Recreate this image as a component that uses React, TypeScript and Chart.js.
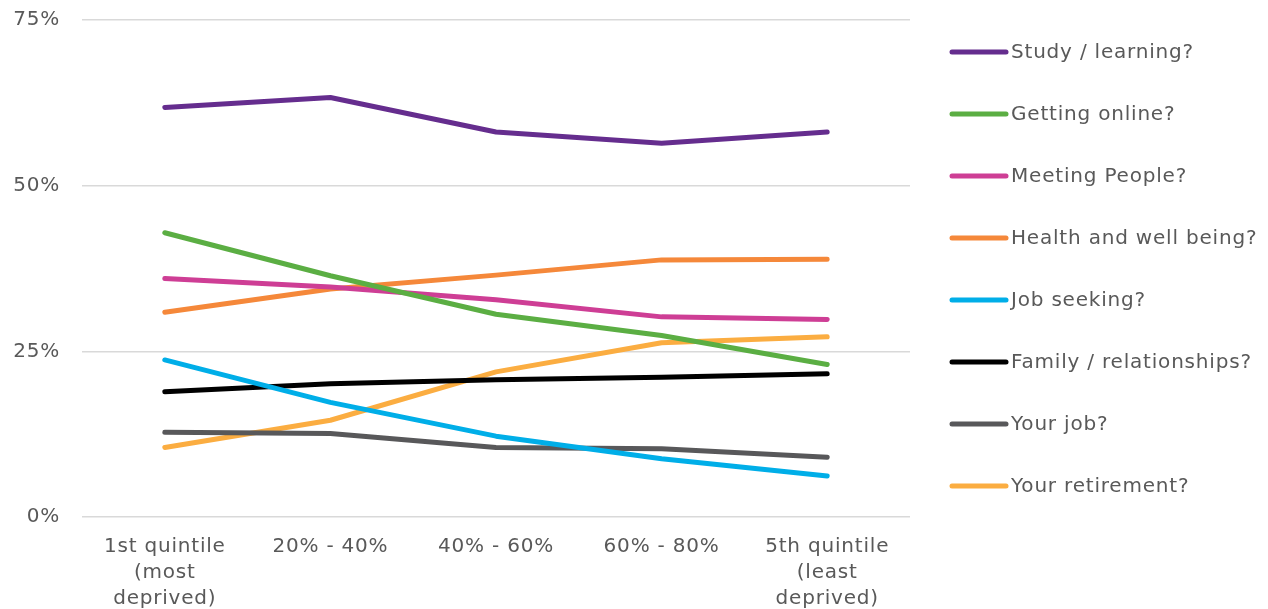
import React, { useEffect, useRef } from "react";
import { Chart, registerables } from "chart.js";

Chart.register(...registerables);

const categories: (string | string[])[] = [
  ["1st quintile", "(most", "deprived)"],
  "20% - 40%",
  "40% - 60%",
  "60% - 80%",
  ["5th quintile", "(least", "deprived)"],
];

const yTicks = [0, 25, 50, 75];

const studyLearning = [61.8, 63.3, 58.1, 56.4, 58.1];
const gettingOnline = [42.9, 36.4, 30.6, 27.4, 23.0];
const meetingPeople = [36.0, 34.7, 32.8, 30.2, 29.8];
const healthWellBeing = [30.9, 34.4, 36.5, 38.8, 38.9];
const jobSeeking = [23.7, 17.3, 12.2, 8.8, 6.2];
const familyRelationships = [18.9, 20.1, 20.7, 21.1, 21.6];
const yourJob = [12.8, 12.6, 10.5, 10.3, 9.0];
const yourRetirement = [10.5, 14.6, 21.9, 26.3, 27.2];

const seriesLabels = [
  "Study / learning?",
  "Getting online?",
  "Meeting People?",
  "Health and well being?",
  "Job seeking?",
  "Family / relationships?",
  "Your job?",
  "Your retirement?",
];
const seriesValues = [
  studyLearning,
  gettingOnline,
  meetingPeople,
  healthWellBeing,
  jobSeeking,
  familyRelationships,
  yourJob,
  yourRetirement,
];
const seriesColors = [
  "#652D8E",
  "#5BAE43",
  "#CE3E95",
  "#F5883A",
  "#00AEE8",
  "#000000",
  "#58585A",
  "#FBAD41",
];

const TEXT_COLOR = "#595959";
const FONT_FAMILY = "'DejaVu Sans', Verdana, sans-serif";
const FONT_SIZE = 20;
const LETTER_SPACING = "0.8px";

// Slightly widened lettering for every label on the canvas.
const wideText = {
  id: "wideText",
  beforeDraw(chart: Chart) {
    (chart.ctx as any).letterSpacing = LETTER_SPACING;
  },
};

// Legend drawn to the right of the plot: a short thick line sample, then the label.
const sideLegend = {
  id: "sideLegend",
  afterDraw(chart: Chart) {
    const ctx = chart.ctx;
    const startX = 952;
    const lineLen = 54;
    const firstY = 52;
    const step = 62;
    ctx.save();
    (ctx as any).letterSpacing = LETTER_SPACING;
    ctx.font = `${FONT_SIZE}px ${FONT_FAMILY}`;
    ctx.textBaseline = "middle";
    ctx.textAlign = "left";
    chart.data.datasets.forEach((ds: any, i: number) => {
      const y = firstY + i * step;
      ctx.strokeStyle = ds.borderColor;
      ctx.lineWidth = 5;
      ctx.lineCap = "round";
      ctx.beginPath();
      ctx.moveTo(startX, y);
      ctx.lineTo(startX + lineLen, y);
      ctx.stroke();
      ctx.fillStyle = TEXT_COLOR;
      ctx.fillText(ds.label, startX + lineLen + 5, y + 1);
    });
    ctx.restore();
  },
};

export default function App() {
  const canvasRef = useRef<HTMLCanvasElement | null>(null);

  useEffect(() => {
    if (!canvasRef.current) return;
    const chart = new Chart(canvasRef.current, {
      type: "line",
      data: {
        labels: categories,
        datasets: seriesLabels.map((label, i) => ({
          label,
          data: seriesValues[i],
          borderColor: seriesColors[i],
          backgroundColor: seriesColors[i],
          borderWidth: 5,
          borderCapStyle: "round" as const,
          borderJoinStyle: "round" as const,
          pointRadius: 0,
          pointHoverRadius: 0,
          tension: 0,
          fill: false,
        })),
      },
      options: {
        animation: false,
        responsive: false,
        maintainAspectRatio: false,
        layout: { padding: { top: 20, right: 358, left: 0, bottom: 0 } },
        plugins: {
          legend: { display: false },
          tooltip: { enabled: false },
        },
        scales: {
          x: {
            offset: true,
            grid: { display: false },
            border: { display: false },
            ticks: {
              color: TEXT_COLOR,
              font: { family: FONT_FAMILY, size: FONT_SIZE, lineHeight: 26 / FONT_SIZE },
              padding: 9,
              maxRotation: 0,
              autoSkip: false,
            },
            afterFit(scale: any) {
              scale.height = 92;
              scale.paddingTop = 0;
              scale.paddingBottom = 0;
            },
          },
          y: {
            min: 0,
            max: 75,
            afterBuildTicks(scale: any) {
              scale.ticks = yTicks.map((v) => ({ value: v }));
            },
            grid: { color: "#D9D9D9", lineWidth: 1.5, drawTicks: false },
            border: { display: false },
            ticks: {
              color: TEXT_COLOR,
              font: { family: FONT_FAMILY, size: FONT_SIZE },
              padding: 22,
              callback: (v: any) => `${v}%`,
            },
            afterFit(scale: any) {
              scale.width = 82;
              scale.paddingTop = 0;
              scale.paddingBottom = 0;
            },
          },
        },
      },
      plugins: [wideText, sideLegend],
    });
    return () => chart.destroy();
  }, []);

  return (
    <div style={{ position: "absolute", left: 0, top: 0, width: 1268, height: 609, background: "#fff" }}>
      <canvas ref={canvasRef} width={1268} height={609} />
    </div>
  );
}
